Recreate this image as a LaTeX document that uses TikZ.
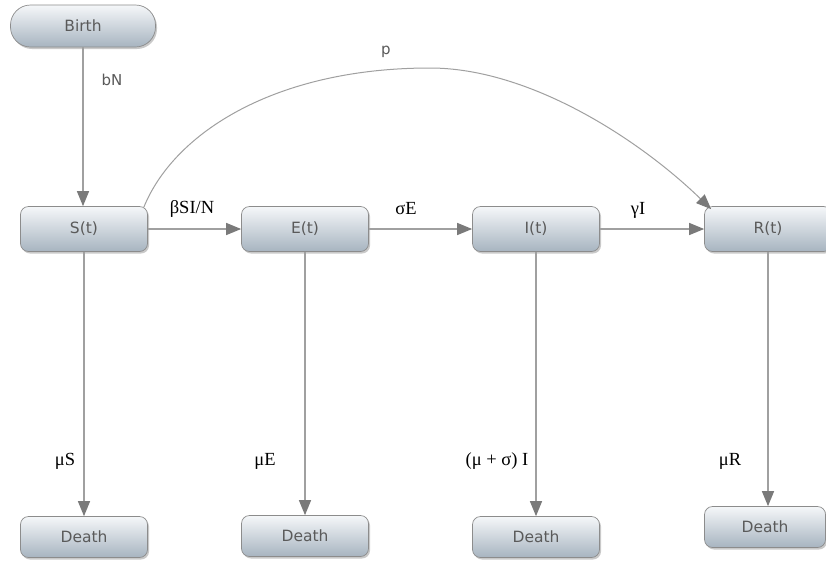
\documentclass[tikz,border=0pt]{standalone}
\usepackage{fontspec}
\setmainfont{Liberation Serif}
\newfontfamily\boxfont{DejaVu Sans}
\usetikzlibrary{arrows.meta,shadows}
\definecolor{boxtop}{HTML}{F5F7F9}
\definecolor{boxbot}{HTML}{A7B4C0}
\definecolor{edgec}{HTML}{A0A0A0}
\definecolor{tipc}{HTML}{7A7A7A}
\definecolor{txtc}{HTML}{5A5A5A}
\begin{document}
\begin{tikzpicture}[x=1pt,y=-1pt,
  box/.style={rectangle, rounded corners=8pt, draw=black!45, line width=0.7pt,
    top color=boxtop, bottom color=boxbot, minimum width=127pt, minimum height=45pt,
    inner sep=0pt, font=\boxfont\fontsize{15.5}{18}\selectfont, text=txtc,
    drop shadow={shadow xshift=1.5pt, shadow yshift=-2pt, opacity=0.35, fill=black!60}},
  deathbox/.style={box, minimum height=41pt},
  flow/.style={draw=edgec, line width=1.3pt, -{Triangle[length=15pt,width=12pt,color=tipc]}},
  lab/.style={font=\fontsize{18.5}{21}\selectfont, text=black, inner sep=0pt},
  slab/.style={font=\boxfont\fontsize{15}{18}\selectfont, text=txtc, inner sep=0pt}
]
\useasboundingbox (0,0) rectangle (826,563);
\fill[white] (0,0) rectangle (826,563);

\node[box, minimum width=145pt, minimum height=42pt, rounded corners=20pt] (birth) at (83,26) {Birth};
\node[box] (S) at (84,229) {S(t)};
\node[box] (E) at (305,229) {E(t)};
\node[box] (I) at (536,229) {I(t)};
\node[box] (R) at (768,229) {R(t)};
\node[deathbox] (DS) at (84,537) {Death};
\node[deathbox] (DE) at (305,536) {Death};
\node[deathbox] (DI) at (536,537) {Death};
\node[deathbox, minimum width=121pt] (DR) at (765,527) {Death};
\coordinate (apex) at (430,68);

\draw[flow] (birth.south) -- (birth.south |- S.north);
\draw[flow] (S) -- (E);
\draw[flow] (E) -- (I);
\draw[flow] (I) -- (R);
\draw[flow] (S.south) -- (S.south |- DS.north);
\draw[flow] (E.south) -- (E.south |- DE.north);
\draw[flow] (I.south) -- (I.south |- DI.north);
\draw[flow] (R.south) -- (R.south |- DR.north);
\draw[flow, line width=1pt] ([xshift=-4pt,yshift=-1pt]S.north east) .. controls (174,133) and (275,68) .. (apex)
   .. controls (530,68) and (640,140) .. ([xshift=7pt,yshift=-3pt]R.north west);

\node[slab] (lbN) at (112,80) {bN};
\node[slab] (lp) at (386,52) {p};
\node[lab] (lbeta) at (192,209) {βSI/N};
\node[lab] (lsig) at (406,209) {σE};
\node[lab] (lgam) at (638,210) {γI};
\node[lab] (lmuS) at (65,461) {μS};
\node[lab] (lmuE) at (265,461) {μE};
\node[lab] (lmuI) at (497,461) {(μ + σ) I};
\node[lab] (lmuR) at (730,461) {μR};
\end{tikzpicture}
\end{document}
